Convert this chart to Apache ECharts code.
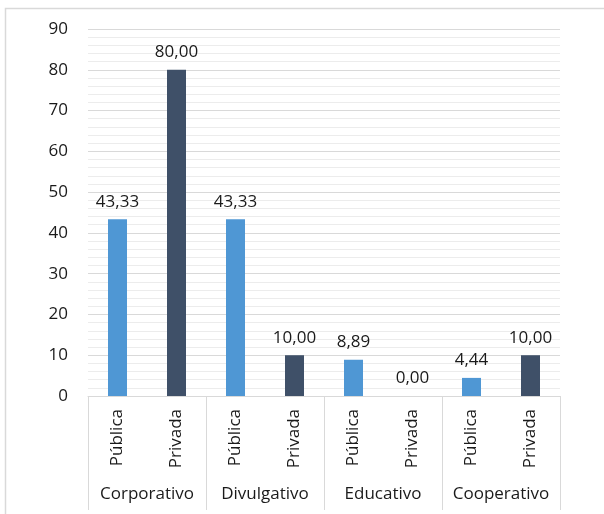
<!DOCTYPE html>
<html><head><meta charset="utf-8">
<script src="https://cdn.jsdelivr.net/npm/echarts@6/dist/echarts.min.js"></script>
<style>html,body{margin:0;padding:0;background:#fff}#c{width:604px;height:514px}</style>
</head><body><div id="c"></div>
<script>
const groups = ['Corporativo', 'Divulgativo', 'Educativo', 'Cooperativo'];
const subCats = ['Pública', 'Privada'];
const publica = [43.33, 43.33, 8.89, 4.44];
const privada = [80.00, 10.00, 0.00, 10.00];
const yTicks = [0, 10, 20, 30, 40, 50, 60, 70, 80, 90];

const cats = [];
const pubData = [], privData = [];
groups.forEach((g, i) => {
  cats.push(subCats[0], subCats[1]);
  pubData.push(publica[i], '-');
  privData.push('-', privada[i]);
});

const FONT = 'Open Sans';
const FS = 17;
const TXT = '#1a1a1a';
const fmt = p => p.value.toFixed(2).replace('.', ',');

const chart = echarts.init(document.getElementById('c'));
chart.setOption({
  animation: false,
  textStyle: { fontFamily: FONT },
  graphic: [{
    type: 'rect', silent: true,
    shape: { x: 5.5, y: 8.5, width: 700, height: 600 },
    style: { fill: 'none', stroke: '#d9d9d9', lineWidth: 1.5 }
  }],
  grid: { left: 88, right: 44, top: 29, bottom: 118 },
  xAxis: [{
    type: 'category', data: cats, position: 'bottom',
    axisLine: { show: true, lineStyle: { color: '#d9d9d9' } },
    axisTick: { show: false },
    axisLabel: { rotate: 90, margin: 13, fontSize: FS, color: TXT, fontFamily: FONT, interval: 0 }
  }, {
    type: 'category', data: groups, position: 'bottom',
    axisLine: { show: false },
    axisTick: { show: true, length: 114, lineStyle: { color: '#d9d9d9' } },
    axisLabel: { margin: 90, fontSize: FS, color: TXT, fontFamily: FONT, interval: 0 }
  }],
  yAxis: {
    type: 'value', min: yTicks[0], max: yTicks[yTicks.length - 1], interval: 10,
    axisLine: { show: false }, axisTick: { show: false },
    axisLabel: { margin: 20, fontSize: FS, color: TXT, fontFamily: FONT },
    splitLine: { lineStyle: { color: '#d9d9d9', width: 1 } },
    minorTick: { show: false, splitNumber: 5 },
    minorSplitLine: { show: true, lineStyle: { color: '#ececec', width: 1 } }
  },
  series: [{
    name: 'Pública', type: 'bar', data: pubData, barWidth: 19, barGap: '-100%',
    itemStyle: { color: '#4f97d4' },
    label: { show: true, position: 'top', distance: 9, fontSize: FS, color: TXT, fontFamily: FONT, formatter: fmt }
  }, {
    name: 'Privada', type: 'bar', data: privData, barWidth: 19, barGap: '-100%',
    itemStyle: { color: '#3f5068' },
    label: { show: true, position: 'top', distance: 9, fontSize: FS, color: TXT, fontFamily: FONT, formatter: fmt }
  }]
});
</script></body></html>
